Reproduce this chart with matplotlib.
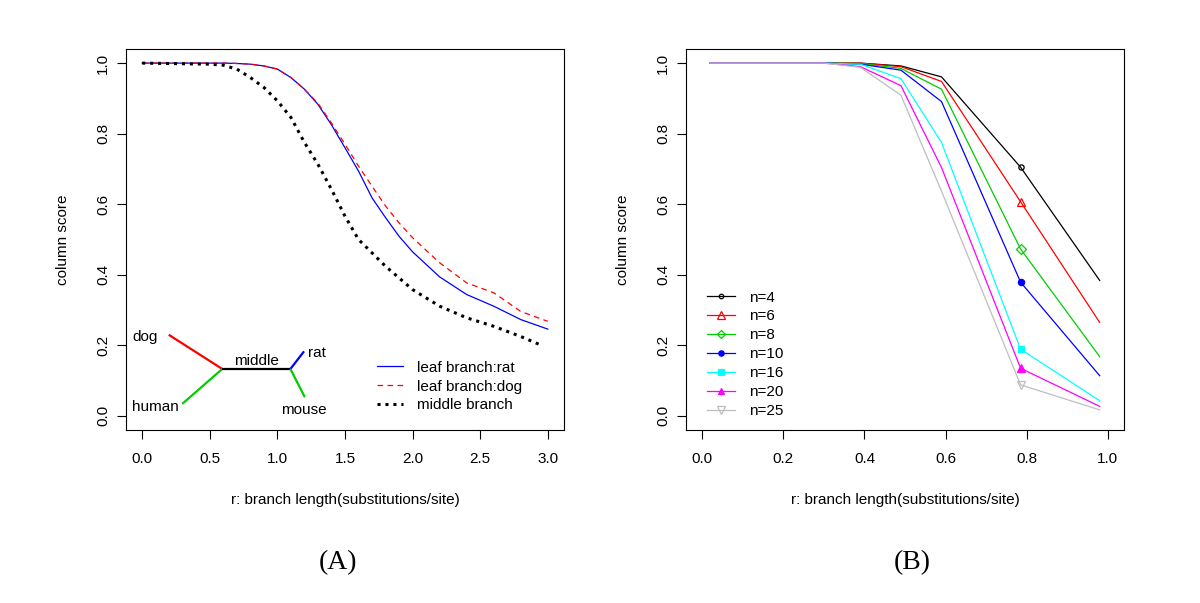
import matplotlib
matplotlib.use("Agg")
import matplotlib.pyplot as plt

# ---------------- Data: panel A ----------------
r_a = [0.0, 0.5, 0.6, 0.7, 0.8, 0.9, 1.0, 1.1, 1.2, 1.3, 1.4, 1.5, 1.6, 1.7,
       1.8, 1.9, 2.0, 2.2, 2.4, 2.6, 2.8, 3.0]
leaf_rat = [1.0, 1.0, 1.0, 0.999, 0.997, 0.992, 0.983, 0.959, 0.926, 0.883, 0.825,
            0.760, 0.694, 0.618, 0.562, 0.509, 0.465, 0.394, 0.344, 0.311, 0.273, 0.246]
leaf_dog = [1.0, 1.0, 1.0, 0.999, 0.997, 0.992, 0.983, 0.959, 0.926, 0.886, 0.830,
            0.770, 0.708, 0.651, 0.595, 0.547, 0.505, 0.434, 0.377, 0.349, 0.296, 0.268]
r_mid = [0.0, 0.5, 0.6, 0.7, 0.8, 0.9, 1.0, 1.1, 1.2, 1.3, 1.4, 1.5, 1.6, 1.7,
         1.8, 1.9, 2.0, 2.2, 2.4, 2.6, 2.8, 2.96]
middle = [1.0, 0.997, 0.994, 0.983, 0.959, 0.931, 0.893, 0.846, 0.775, 0.713, 0.642,
          0.566, 0.500, 0.462, 0.424, 0.391, 0.358, 0.311, 0.278, 0.254, 0.225, 0.199]
legend_a = ["leaf branch:rat", "leaf branch:dog", "middle branch"]

# tree sketch (data coordinates of panel A)
tree_dog = ([0.196, 0.592], [0.230, 0.133])
tree_human = ([0.296, 0.592], [0.034, 0.133])
tree_middle = ([0.592, 1.096], [0.133, 0.133])
tree_rat = ([1.096, 1.197], [0.133, 0.183])
tree_mouse = ([1.096, 1.203], [0.133, 0.053])

# ---------------- Data: panel B ----------------
r_b = [0.02, 0.1, 0.2, 0.3, 0.39, 0.49, 0.59, 0.785, 0.98]
n_labels = ["n=4", "n=6", "n=8", "n=10", "n=16", "n=20", "n=25"]
n4 = [1.0, 1.0, 1.0, 1.0, 1.000, 0.992, 0.961, 0.705, 0.384]
n6 = [1.0, 1.0, 1.0, 1.0, 1.000, 0.990, 0.948, 0.607, 0.265]
n8 = [1.0, 1.0, 1.0, 1.0, 0.999, 0.985, 0.926, 0.473, 0.168]
n10 = [1.0, 1.0, 1.0, 1.0, 0.997, 0.980, 0.891, 0.379, 0.114]
n16 = [1.0, 1.0, 1.0, 1.0, 0.997, 0.956, 0.775, 0.189, 0.043]
n20 = [1.0, 1.0, 1.0, 1.0, 0.990, 0.936, 0.704, 0.135, 0.027]
n25 = [1.0, 1.0, 1.0, 1.0, 0.988, 0.909, 0.637, 0.088, 0.017]
series_b = [n4, n6, n8, n10, n16, n20, n25]
marker_idx = 7

colors_b = ["#000000", "#FF0000", "#00CD00", "#0000FF", "#00FFFF", "#FF00FF", "#BEBEBE"]
markers_b = ["o", "^", "D", "o", "s", "^", "v"]
filled_b = [False, False, False, True, True, True, False]
msizes_b = [3.8, 6, 5, 4.5, 5, 5.5, 6]

plt.rcParams['font.family'] = ['Liberation Sans', 'DejaVu Sans']
FS = 11

fig = plt.figure(figsize=(12, 6.03), dpi=100)
W, H = 1200, 603


def make_ax(x0, x1, y0, y1):
    return fig.add_axes([x0 / W, 1 - y1 / H, (x1 - x0) / W, (y1 - y0) / H])


axA = make_ax(126, 564, 49, 430)
axB = make_ax(686, 1124, 49, 430)

for ax in (axA, axB):
    for sp in ax.spines.values():
        sp.set_linewidth(0.8)
    ax.tick_params(direction='out', length=6.5, width=0.8, labelsize=FS, pad=9)
    ax.tick_params(axis='y', pad=5)
    ax.set_yticks([0.0, 0.2, 0.4, 0.6, 0.8, 1.0])
    ax.set_yticklabels(["0.0", "0.2", "0.4", "0.6", "0.8", "1.0"], rotation=90, va='center')
    ax.set_ylim(-0.04, 1.04)
    ax.set_ylabel("column score", fontsize=FS)
    ax.set_xlabel("r: branch length(substitutions/site)", fontsize=FS)
    ax.xaxis.set_label_coords(0.5, -0.184)
    ax.xaxis.label.set_va('center')
    ax.yaxis.set_label_coords(-0.144, 0.5)
    ax.yaxis.label.set_va('center')

# ---------------- Panel A ----------------
axA.set_xlim(-0.12, 3.12)
axA.set_xticks([0.0, 0.5, 1.0, 1.5, 2.0, 2.5, 3.0])
axA.set_xticklabels(["0.0", "0.5", "1.0", "1.5", "2.0", "2.5", "3.0"])

axA.plot(r_a, leaf_rat, color="#0000FF", lw=0.9, label=legend_a[0])
axA.plot(r_a, leaf_dog, color="#FF0000", lw=0.9, dashes=(4.5, 3.5), label=legend_a[1])
axA.plot(r_mid, middle, color="#000000", lw=2.2, dashes=(1.0, 1.6), label=legend_a[2])

axA.plot(*tree_dog, color="#FF0000", lw=1.6, solid_capstyle='butt')
axA.plot(*tree_human, color="#00CD00", lw=1.6, solid_capstyle='butt')
axA.plot(*tree_middle, color="#000000", lw=1.6, solid_capstyle='butt')
axA.plot(*tree_rat, color="#0000FF", lw=1.6, solid_capstyle='butt')
axA.plot(*tree_mouse, color="#00CD00", lw=1.6, solid_capstyle='butt')
axA.text(-0.075, 0.224, "dog", fontsize=FS, ha='left', va='center')
axA.text(-0.075, 0.026, "human", fontsize=FS, ha='left', va='center')
axA.text(0.845, 0.157, "middle", fontsize=FS, ha='center', va='center')
axA.text(1.228, 0.178, "rat", fontsize=FS, ha='left', va='center')
axA.text(1.198, 0.017, "mouse", fontsize=FS, ha='center', va='center')

axA.legend(loc='upper left', bbox_to_anchor=(0.573, 0.182), frameon=False,
           fontsize=FS, handlelength=1.7, handletextpad=0.9, labelspacing=0.32,
           borderpad=0, borderaxespad=0)

# ---------------- Panel B ----------------
axB.set_xlim(-0.04, 1.04)
axB.set_xticks([0.0, 0.2, 0.4, 0.6, 0.8, 1.0])
axB.set_xticklabels(["0.0", "0.2", "0.4", "0.6", "0.8", "1.0"])

for ys, c, m, f, ms, lab in zip(series_b, colors_b, markers_b, filled_b, msizes_b, n_labels):
    axB.plot(r_b, ys, color=c, lw=0.9, marker=m, markersize=ms, markevery=[marker_idx],
             markerfacecolor=(c if f else 'none'), markeredgecolor=c, markeredgewidth=0.9,
             label=lab)

axB.legend(loc='upper left', bbox_to_anchor=(0.047, 0.366), frameon=False,
           fontsize=FS, handlelength=1.85, handletextpad=0.9, labelspacing=0.32,
           borderpad=0, borderaxespad=0, numpoints=1, markerscale=0.85)

# panel letters
fig.text(338 / W, 1 - 563 / H, "(A)", fontsize=20, family=['Liberation Serif', 'DejaVu Serif'],
         ha='center', va='center')
fig.text(912 / W, 1 - 563 / H, "(B)", fontsize=20, family=['Liberation Serif', 'DejaVu Serif'],
         ha='center', va='center')

fig.savefig("out.png", dpi=100)
